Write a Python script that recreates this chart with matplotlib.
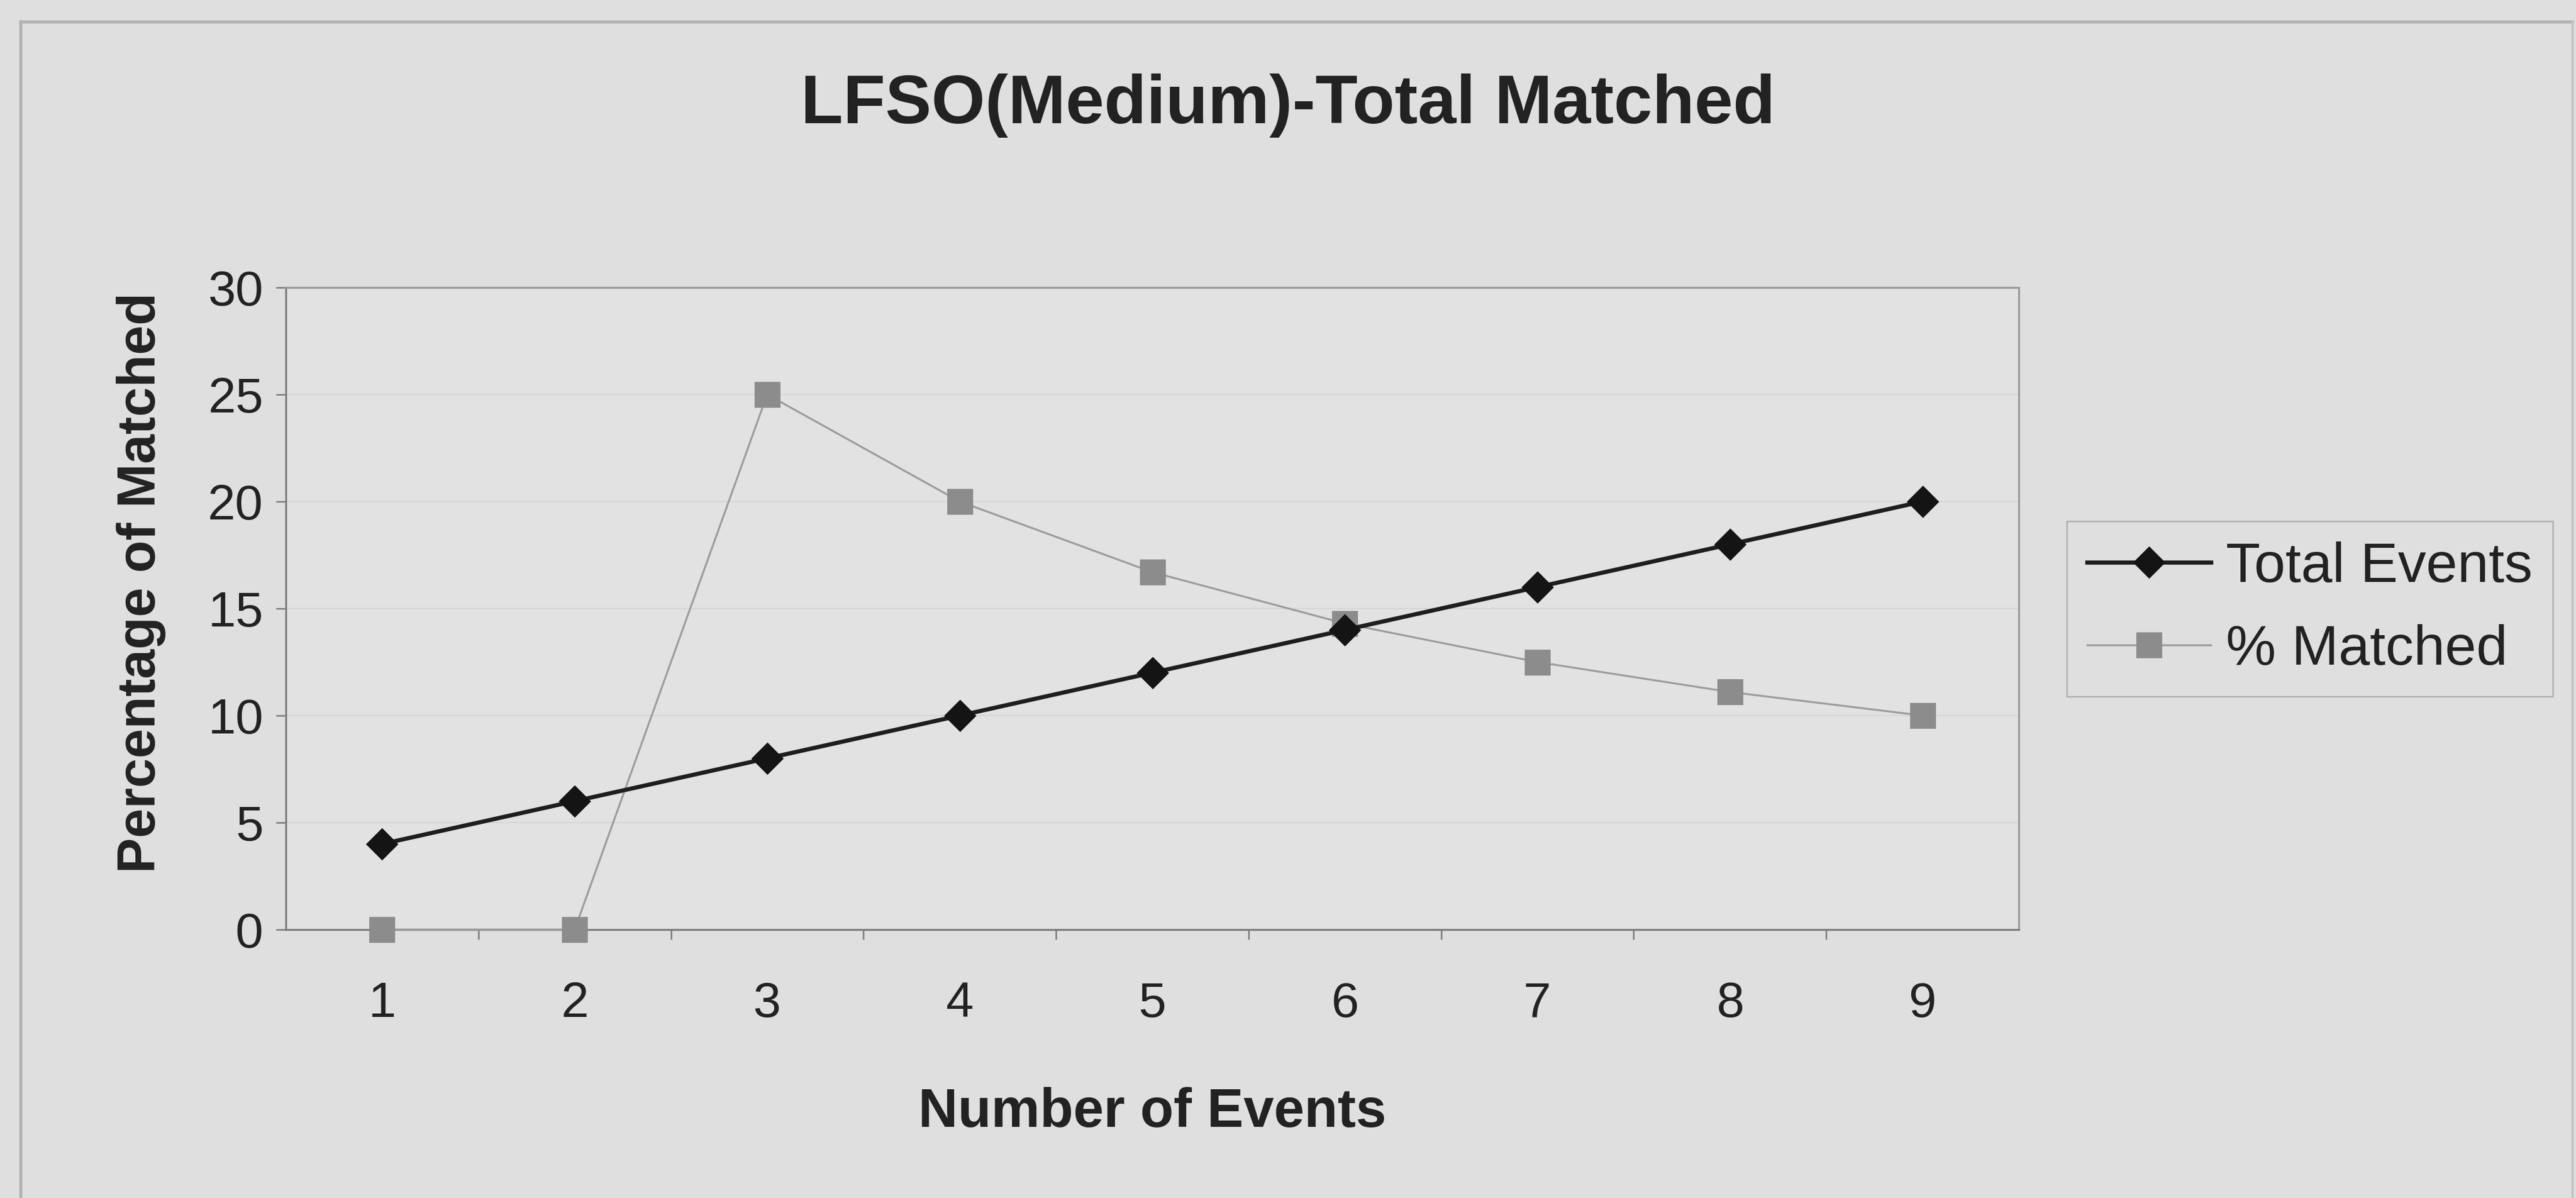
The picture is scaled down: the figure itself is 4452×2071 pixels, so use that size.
import matplotlib
matplotlib.use("Agg")
import matplotlib.pyplot as plt
from matplotlib.lines import Line2D

# data
events = [1, 2, 3, 4, 5, 6, 7, 8, 9]
total_events = [4, 6, 8, 10, 12, 14, 16, 18, 20]
pct_matched = [0, 0, 25, 20, 16.7, 14.3, 12.5, 11.1, 10]
y_ticks = [0, 5, 10, 15, 20, 25, 30]

plt.rcParams['font.family'] = ['Liberation Sans', 'DejaVu Sans']

W, H, DPI = 4452, 2071, 200
fig = plt.figure(figsize=(W / DPI, H / DPI), dpi=DPI, facecolor='#dfdfdf')

# plot area (pixel bounds from the reference)
left, right, top, bottom = 494, 3489, 497, 1607
ax = fig.add_axes([left / W, 1 - bottom / H, (right - left) / W, (bottom - top) / H])
ax.set_facecolor('#e2e2e2')

ax.plot(events, total_events, color='#1e1e1e', linewidth=2.6, marker='D',
        markersize=13, markerfacecolor='#141414', markeredgecolor='#141414',
        label='Total Events', zorder=4)
ax.plot(events, pct_matched, color='#9c9c9c', linewidth=1.2, marker='s',
        markersize=15, markerfacecolor='#8c8c8c', markeredgecolor='#8c8c8c',
        label='% Matched', zorder=3, clip_on=False)

ax.set_xlim(0.5, 9.5)
ax.set_ylim(0, 30)
ax.set_yticks(y_ticks)
ax.set_xticks(events)
ax.set_xticks([e + 0.5 for e in events[:-1]], minor=True)
ax.tick_params(axis='x', which='major', length=0, pad=32, labelsize=31, colors='#222222')
ax.tick_params(axis='x', which='minor', length=6, width=1, color='#808080', direction='out')
ax.tick_params(axis='y', length=6, width=1, color='#808080', direction='out',
               pad=8, labelsize=31, labelcolor='#222222')

ax.yaxis.grid(True, color='#d6d6d6', linewidth=0.8)
ax.set_axisbelow(True)

for side in ['left', 'bottom']:
    ax.spines[side].set_color('#7c7c7c')
    ax.spines[side].set_linewidth(1.2)
for side in ['top', 'right']:
    ax.spines[side].set_color('#9a9a9a')
    ax.spines[side].set_linewidth(1.2)

ax.set_xlabel('Number of Events', fontsize=34, fontweight='bold', color='#222222', labelpad=37)
ax.set_ylabel('Percentage of Matched', fontsize=33, fontweight='bold', color='#222222')
ax.yaxis.set_label_coords(-0.069, 0.54)

fig.text(0.5, 1 - 183 / H, 'LFSO(Medium)-Total Matched',
         ha='center', va='center', fontsize=43, fontweight='bold', color='#222222')

leg = ax.legend(loc='upper left', bbox_to_anchor=(3572 / W, 1 - 901 / H),
                bbox_transform=fig.transFigure, fontsize=35, frameon=True,
                fancybox=False, edgecolor='#a8a8a8', facecolor='#e0e0e0',
                handlelength=2.2, handletextpad=0.27, labelspacing=0.55,
                borderpad=0.36, borderaxespad=0)
leg.get_frame().set_linewidth(1.0)
for t in leg.get_texts():
    t.set_color('#222222')

# outer chart frame
fx0, fx1, fy0 = 36 / W, 4446 / W, 1 - 38 / H
fig.add_artist(Line2D([fx0, fx1], [fy0, fy0], transform=fig.transFigure, color='#b4b4b4', linewidth=2))
fig.add_artist(Line2D([fx0, fx0], [fy0, 0], transform=fig.transFigure, color='#b4b4b4', linewidth=2))
fig.add_artist(Line2D([fx1, fx1], [fy0, 0], transform=fig.transFigure, color='#c4c4c4', linewidth=1.5))

fig.savefig('out.png', dpi=DPI, facecolor=fig.get_facecolor())
